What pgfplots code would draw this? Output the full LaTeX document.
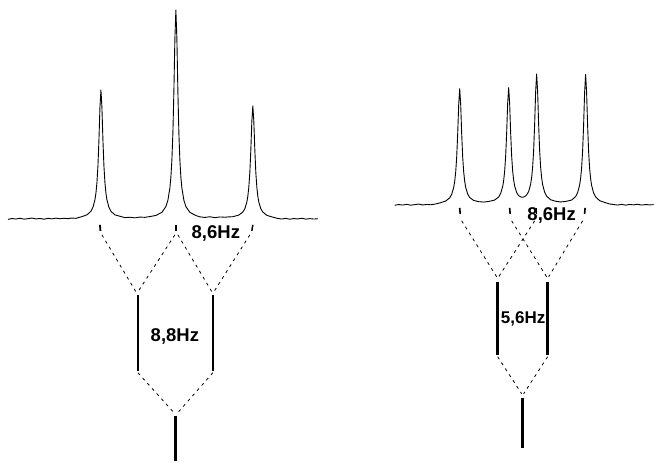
\documentclass[border=0pt]{standalone}
\usepackage{pgfplots}
\pgfplotsset{compat=1.18}
\usepackage{fontspec}
\setmainfont{Liberation Sans}
\begin{document}
\begin{tikzpicture}
\begin{axis}[width=654pt, height=461pt, scale only axis,
  xmin=0, xmax=654, ymin=0, ymax=461,
  axis line style={draw=none}, xtick=\empty, ytick=\empty, clip=false]
% left spectrum (triplet)
\addplot[black, line width=0.9pt, line join=round] coordinates {
(8,241.5) (12,242.3) (16,241.8) (20,242.6) (24,241.7) (28,242.2) (32,242.8) (36,241.9)
(40,242.4) (44,241.6) (48,242.5) (52,242.0) (56,242.7) (60,242.1) (64,242.6) (68,242.2)
(72,242.8) (76,242.5) (81,243.9) (87,246.0) (91,249.6) (93,253.5) (95,261.1) (96,267.8)
(97,278.2) (98,294.9) (99,320.7) (100,353.2) (101,371) (102,353.2) (103,320.7) (104,294.9)
(105,278.2) (106,267.8) (107,261.1) (109,253.5) (111,249.6) (115,246.0) (121,244.3)
(125,243.2) (130,243.6) (135,243.0) (140,243.8) (145,243.5) (150,244.3) (156,245.4)
(162,248.5) (166,254.3) (168,260.6) (170,272.9) (171,283.8) (172,300.7) (173,327.7)
(174,369.5) (175,422.2) (176,451) (177,422.2) (178,369.5) (179,327.7) (180,300.7)
(181,283.8) (182,272.9) (184,260.6) (186,254.3) (190,248.5) (196,245.3)
(200,244.0) (205,243.4) (210,244.1) (215,243.2) (220,243.9) (225,243.6) (229,244.0)
(233,244.1) (239,245.8) (243,248.8) (245,252.1) (247,258.7) (248,264.6) (249,273.8)
(250,288.3) (251,310.9) (252,339.4) (253,355) (254,339.4) (255,310.9) (256,288.3)
(257,273.8) (258,264.6) (259,258.7) (261,252.1) (263,248.8) (267,245.5) (273,243.7)
(278,242.4) (282,241.8) (286,242.5) (290,241.6) (294,242.3) (298,241.9) (302,242.6)
(306,241.7) (310,242.2) (314,241.8) (318,242.1)
};
% right spectrum (doublet of doublets)
\addplot[black, line width=0.9pt, line join=round] coordinates {
(395,255.6) (399,256.3) (403,255.8) (407,256.5) (411,255.7) (415,256.2) (419,256.8)
(423,255.9) (427,256.4) (431,256.1) (435,256.7) (440,257.9) (446,259.8) (450,263.0)
(452,266.5) (454,273.4) (455,279.4) (456,288.8) (457,303.8) (458,327) (459,356.2)
(460,372.2) (461,356.3) (462,327.2) (463,304.0) (464,289.0) (465,279.6) (466,273.6)
(468,266.8) (470,263.4) (474,260.4) (479,259.2) (484,258.8) (489,259.4) (495,260.8)
(499,263.8) (501,267.4) (503,274.3) (504,280.3) (505,289.8) (506,304.8) (507,328.0)
(508,357.3) (509,373.3) (510,357.4) (511,328.0) (512,304.9) (513,290.0) (514,280.7)
(515,274.9) (517,268.3) (519,265.3) (521,263.9) (523,263.6) (525,264.2) (527,265.9)
(529,269.3) (531,276.7) (532,283.4) (533,293.8) (534,310.5) (535,336.4) (536,369.1)
(537,386.9) (538,369.3) (539,336.5) (540,310.4) (541,293.6) (542,283.1) (543,276.2)
(545,268.6) (547,264.7) (551,261.1) (556,259.6) (561,258.9) (566,259.4) (572,260.8)
(576,264.3) (578,268.1) (580,275.7) (581,282.4) (582,292.9) (583,309.7) (584,335.7)
(585,368.5) (586,386.4) (587,368.5) (588,335.6) (589,309.6) (590,292.8) (591,282.3)
(592,275.5) (594,267.9) (596,264.0) (600,260.2) (606,258.1) (610,256.9) (614,256.3)
(618,255.8) (622,256.5) (626,255.7) (630,256.4) (634,256.0) (638,256.6) (642,255.8)
(646,256.3) (650,256.0) (654,256.2)
};
% left tree: short ticks under peaks
\addplot[black, line width=1.8pt] coordinates {(100,236) (100.5,230)};
\addplot[black, line width=2.2pt] coordinates {(176.5,236) (176.5,230)};
\addplot[black, line width=1.5pt] coordinates {(253,236) (252,230)};
\addplot[black, line width=0.8pt, dash pattern=on 3pt off 4pt] coordinates {(102,226) (136,169)};
\addplot[black, line width=0.8pt, dash pattern=on 3pt off 4pt] coordinates {(175,226) (138,169)};
\addplot[black, line width=0.8pt, dash pattern=on 3pt off 4pt] coordinates {(178,226) (212,169)};
\addplot[black, line width=0.8pt, dash pattern=on 3pt off 4pt] coordinates {(250,226) (214,169)};
\addplot[black, line width=2.5pt] coordinates {(138,166) (138,90)};
\addplot[black, line width=2pt] coordinates {(213,166) (213,90)};
\addplot[black, line width=0.8pt, dash pattern=on 3pt off 4pt] coordinates {(138,88) (175,47)};
\addplot[black, line width=0.8pt, dash pattern=on 3pt off 4pt] coordinates {(213,88) (177,47)};
\addplot[black, line width=3pt] coordinates {(176,45) (176,0)};
% right tree
\addplot[black, line width=1.6pt] coordinates {(460,253) (460.5,247)};
\addplot[black, line width=1.6pt] coordinates {(510,253) (510.5,247)};
\addplot[black, line width=1.6pt] coordinates {(537,253) (537,247)};
\addplot[black, line width=1.6pt] coordinates {(585.5,253) (585,247)};
\addplot[black, line width=0.8pt, dash pattern=on 3pt off 4pt] coordinates {(462,240) (497,184)};
\addplot[black, line width=0.8pt, dash pattern=on 3pt off 4pt] coordinates {(535,240) (499,184)};
\addplot[black, line width=0.8pt, dash pattern=on 3pt off 4pt] coordinates {(512,240) (547,184)};
\addplot[black, line width=0.8pt, dash pattern=on 3pt off 4pt] coordinates {(583,240) (549,184)};
\addplot[black, line width=2.5pt] coordinates {(498,179) (498,106)};
\addplot[black, line width=2.5pt] coordinates {(548,179) (548,106)};
\addplot[black, line width=0.8pt, dash pattern=on 3pt off 4pt] coordinates {(498,104) (522,67)};
\addplot[black, line width=0.8pt, dash pattern=on 3pt off 4pt] coordinates {(548,104) (524,67)};
\addplot[black, line width=3pt] coordinates {(523,63) (523,13)};
% labels
\node[font=\fontsize{18.5}{21}\selectfont\bfseries, fill=white, inner sep=1pt] at (axis cs:216,227) {8,6Hz};
\node[font=\fontsize{18.5}{21}\selectfont\bfseries, fill=white, inner sep=1pt] at (axis cs:175,124) {8,8Hz};
\node[font=\fontsize{18.5}{21}\selectfont\bfseries, inner sep=1pt] at (axis cs:552,245.5) {8,6Hz};
\node[font=\fontsize{17}{20}\selectfont\bfseries, inner sep=1pt] at (axis cs:523.5,142) {5,6Hz};
\end{axis}
\end{tikzpicture}
\end{document}
